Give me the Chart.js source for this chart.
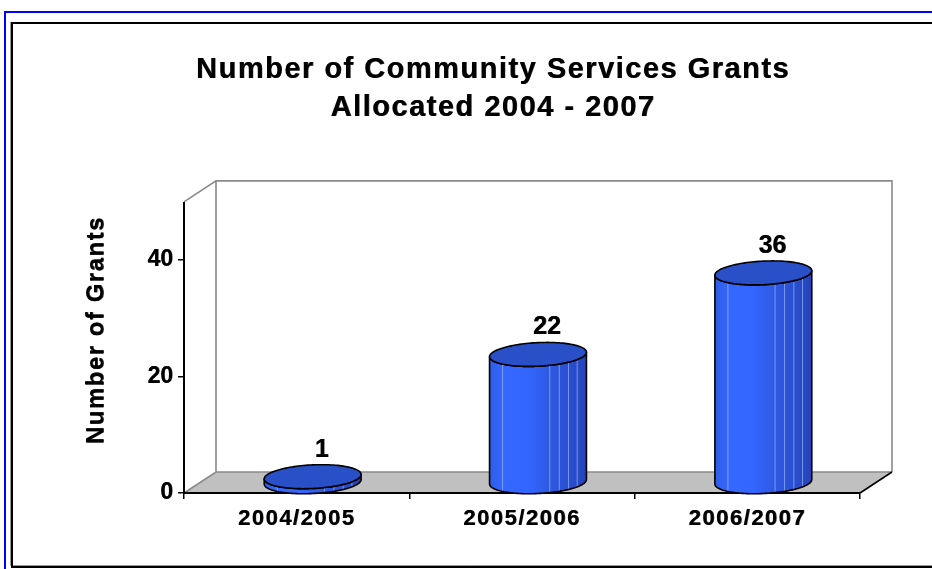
<!DOCTYPE html>
<html>
<head>
<meta charset="utf-8">
<script src="https://cdn.jsdelivr.net/npm/chart.js@4/dist/chart.umd.min.js"></script>
<style>
  html, body { margin: 0; padding: 0; background: #ffffff; overflow: hidden; }
  #wrap { width: 932px; height: 569px; position: relative; }
  canvas { display: block; }
</style>
</head>
<body>
<div id="wrap"><canvas id="c" width="932" height="569"></canvas></div>
<script>
// ---- data ----
const categories = ['2004/2005', '2005/2006', '2006/2007'];
const grants = [1, 22, 36];
const yTickValues = [0, 20, 40];
const wallMax = 50;          // top of the 3D walls (value units)
const yMax = 56;             // scale range used for layout
const titleLines = ['Number of Community Services Grants', 'Allocated 2004 - 2007'];
const yAxisTitle = 'Number of Grants';

// ---- style ----
const FONT = 'Liberation Sans, Arial, sans-serif';
const DEPTH = { dx: 32, dy: -21 };
const CYL = { vx: 9, vy: -12 };

function heavyText(c, spacing) {
  c.letterSpacing = spacing;
  c.shadowColor = 'rgba(0,0,0,0.8)';
  c.shadowOffsetX = 0.6;
  c.shadowOffsetY = 0;
  c.shadowBlur = 0;
}

function wrapText(obj, method, spacing) {
  if (!obj || obj['_ls_' + method]) return;
  const orig = obj[method];
  obj[method] = function (...args) {
    const c = this.ctx;
    c.save();
    heavyText(c, spacing);
    orig.apply(this, args);
    c.restore();
  };
  obj['_ls_' + method] = true;
}

function drawCylinder(ctx, cx, yTop, yBot, hw) {
  const vx = CYL.vx, vy = CYL.vy;
  const r = Math.sqrt(Math.max(hw * hw - vx * vx, 1));
  const ts = Math.atan2(vx, r);
  const P = (th, cy) => [cx + r * Math.cos(th) + vx * Math.sin(th), cy + vy * Math.sin(th)];
  const N = 64;
  const bodyPath = () => {
    ctx.beginPath();
    let p = P(ts, yTop); ctx.moveTo(p[0], p[1]);
    p = P(ts, yBot); ctx.lineTo(p[0], p[1]);
    for (let i = 1; i <= N; i++) { p = P(ts - Math.PI * i / N, yBot); ctx.lineTo(p[0], p[1]); }
    p = P(ts - Math.PI, yTop); ctx.lineTo(p[0], p[1]);
    for (let i = 1; i <= N; i++) { p = P(ts - Math.PI + Math.PI * i / N, yTop); ctx.lineTo(p[0], p[1]); }
    ctx.closePath();
  };
  bodyPath();
  const g = ctx.createLinearGradient(cx - hw, 0, cx + hw, 0);
  g.addColorStop(0, '#2f5de8');
  g.addColorStop(0.15, '#3568ff');
  g.addColorStop(0.4, '#3366ff');
  g.addColorStop(0.62, '#2e59e2');
  g.addColorStop(0.85, '#294ecd');
  g.addColorStop(1, '#2443b8');
  ctx.fillStyle = g;
  ctx.fill();
  // facet highlight lines
  ctx.save();
  ctx.clip();
  ctx.strokeStyle = 'rgba(190,205,255,0.55)';
  ctx.lineWidth = 1;
  [137, 76, 64, 51, 36].forEach(a => {
    const x = cx + hw * Math.cos(a * Math.PI / 180);
    ctx.beginPath();
    ctx.moveTo(x, yTop - 30);
    ctx.lineTo(x, yBot + 30);
    ctx.stroke();
  });
  ctx.restore();
  bodyPath();
  ctx.strokeStyle = '#000';
  ctx.lineWidth = 1.6;
  ctx.lineJoin = 'round';
  ctx.stroke();
  // top ellipse
  ctx.beginPath();
  for (let i = 0; i <= 2 * N; i++) {
    const p = P(ts + Math.PI * i / N, yTop);
    if (i === 0) ctx.moveTo(p[0], p[1]); else ctx.lineTo(p[0], p[1]);
  }
  ctx.closePath();
  ctx.fillStyle = '#2a50c8';
  ctx.fill();
  ctx.stroke();
}

const scene = {
  id: 'scene',
  afterLayout(chart) {
    const t = chart.titleBlock;
    if (t) { t.left = 54; t.right = chart.width; }
    wrapText(t, 'draw', '1.5px');
    wrapText(chart.scales.x, 'drawLabels', '1.5px');
    wrapText(chart.scales.y, 'drawTitle', '1.5px');
    wrapText(chart.scales.y, 'drawLabels', '0px');
  },
  beforeDraw(chart) {
    const { ctx, width, height } = chart;
    const xs = chart.scales.x, ys = chart.scales.y;
    const { dx, dy } = DEPTH;
    ctx.save();
    ctx.fillStyle = '#ffffff';
    ctx.fillRect(0, 0, width, height);
    // blue outer border
    ctx.strokeStyle = '#0000ff';
    ctx.lineWidth = 2;
    ctx.beginPath();
    ctx.moveTo(5, height); ctx.lineTo(5, 12); ctx.lineTo(width, 12);
    ctx.stroke();
    // black frame
    ctx.strokeStyle = '#9a9a9a';
    ctx.lineWidth = 1;
    ctx.beginPath();
    ctx.moveTo(width, 565.5); ctx.lineTo(10.5, 565.5); ctx.lineTo(10.5, 22);
    ctx.stroke();
    ctx.strokeStyle = '#000';
    ctx.lineWidth = 2;
    ctx.beginPath();
    ctx.moveTo(width, 567); ctx.lineTo(12, 567); ctx.lineTo(12, 23); ctx.lineTo(width, 23);
    ctx.stroke();

    const x0 = xs.left, x1 = xs.right;
    const yb = ys.getPixelForValue(0), yt = ys.getPixelForValue(wallMax);
    // floor
    ctx.beginPath();
    ctx.moveTo(x0, yb); ctx.lineTo(x1, yb); ctx.lineTo(x1 + dx, yb + dy); ctx.lineTo(x0 + dx, yb + dy);
    ctx.closePath();
    ctx.fillStyle = '#c0c0c0';
    ctx.fill();
    // walls (gray edges)
    ctx.strokeStyle = '#8a8a8a';
    ctx.lineWidth = 1.6;
    ctx.beginPath();
    ctx.moveTo(x0, yb); ctx.lineTo(x0 + dx, yb + dy); ctx.lineTo(x1 + dx, yb + dy);
    ctx.moveTo(x0, yt); ctx.lineTo(x0 + dx, yt + dy); ctx.lineTo(x1 + dx, yt + dy); ctx.lineTo(x1 + dx, yb + dy);
    ctx.moveTo(x0 + dx, yt + dy); ctx.lineTo(x0 + dx, yb + dy);
    ctx.stroke();
    // front right floor edge
    ctx.strokeStyle = '#000';
    ctx.lineWidth = 1.6;
    ctx.beginPath();
    ctx.moveTo(x1, yb); ctx.lineTo(x1 + dx, yb + dy);
    ctx.stroke();
    // front value axis line
    ctx.lineWidth = 2;
    ctx.beginPath();
    ctx.moveTo(x0, yt); ctx.lineTo(x0, yb + 1);
    ctx.stroke();
    ctx.restore();
  },
  afterDatasetsDraw(chart) {
    const { ctx } = chart;
    const meta = chart.getDatasetMeta(0);
    const { dx, dy } = DEPTH;
    ctx.save();
    meta.data.forEach((bar, i) => {
      const cx = bar.x + dx / 2;
      const yTop = bar.y + dy / 2;
      const yBot = bar.base + dy / 2;
      drawCylinder(ctx, cx, yTop, yBot, bar.width / 2);
      ctx.save();
      heavyText(ctx, '0px');
      ctx.fillStyle = '#000';
      ctx.font = 'bold 25px ' + FONT;
      ctx.textAlign = 'center';
      ctx.textBaseline = 'middle';
      ctx.fillText(String(grants[i]), cx + 9, yTop + CYL.vy - 15);
      ctx.restore();
    });
    ctx.restore();
  }
};

new Chart(document.getElementById('c'), {
  type: 'bar',
  data: {
    labels: categories,
    datasets: [{
      data: grants,
      backgroundColor: 'rgba(0,0,0,0)',
      borderWidth: 0,
      categoryPercentage: 1,
      barPercentage: 0.43
    }]
  },
  options: {
    responsive: false,
    animation: false,
    devicePixelRatio: 1,
    layout: { padding: { left: 0, right: 72, top: 0, bottom: 0 } },
    plugins: {
      legend: { display: false },
      tooltip: { enabled: false },
      title: {
        display: true,
        text: titleLines,
        color: '#000',
        font: { family: FONT, size: 29, weight: 'bold', lineHeight: 1.31 },
        padding: { top: 51, bottom: 40 }
      }
    },
    scales: {
      x: {
        type: 'category',
        offset: true,
        grid: { display: true, drawOnChartArea: false, drawTicks: true, tickLength: 6, color: '#000', lineWidth: 1.5, offset: true },
        border: { display: true, color: '#000', width: 2 },
        ticks: { color: '#000', font: { family: FONT, size: 22, weight: 'bold' }, padding: 7, maxRotation: 0, autoSkip: false },
        afterFit(s) { s.height = 76; }
      },
      y: {
        min: 0,
        max: yMax,
        afterBuildTicks(s) { s.ticks = yTickValues.map(v => ({ value: v })); },
        grid: { display: true, drawOnChartArea: false, drawTicks: true, tickLength: 6, color: '#000', lineWidth: 1.5 },
        border: { display: false },
        ticks: { color: '#000', font: { family: FONT, size: 23, weight: 'bold' }, padding: 5 },
        title: {
          display: true,
          text: yAxisTitle,
          color: '#000',
          font: { family: FONT, size: 24, weight: 'bold' },
          padding: { top: 82, bottom: 0 }
        },
        afterFit(s) { s.width = 184; }
      }
    }
  },
  plugins: [scene]
});
</script>
</body>
</html>
